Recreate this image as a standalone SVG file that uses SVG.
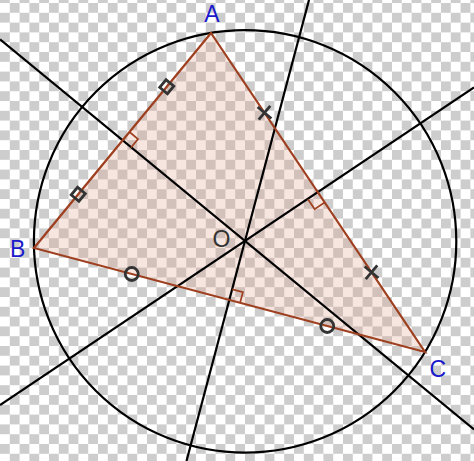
<svg xmlns="http://www.w3.org/2000/svg" width="474" height="461" viewBox="0 0 474 461">
<defs>
<pattern id="chk" x="0" y="3" width="19.6" height="19.6" patternUnits="userSpaceOnUse">
<rect width="19.6" height="19.6" fill="#ffffff"/>
<rect x="9.8" y="0" width="9.8" height="9.8" fill="#cdcdcd"/>
<rect x="0" y="9.8" width="9.8" height="9.8" fill="#cdcdcd"/>
</pattern>
</defs>
<style>
.line{stroke:#000;stroke-width:2.2;fill:none}
.side{stroke:#9e4020;stroke-width:2.2;fill:none;stroke-linejoin:miter}
.ra{stroke:#9e4020;stroke-width:1.7;fill:none}
.tick{stroke:#333;stroke-width:2.8;fill:none}
.lbl{font-family:"Liberation Sans",Arial,sans-serif;font-size:23px;fill:#1a1acc}
.olbl{font-family:"Liberation Sans",Arial,sans-serif;font-size:23px;fill:#333}
</style>
<rect width="474" height="461" fill="url(#chk)"/>
<g id="triangle-fill">
<polygon points="211,33 34,248 425,352" fill="#e0a088" fill-opacity="0.26"/>
</g>
<g id="circumcircle">
<circle cx="245.1" cy="241.4" r="211.2" class="line"/>
</g>
<g id="connectors">
<line class="line" x1="0" y1="39.3" x2="474" y2="429.5"/>
<line class="line" x1="474" y1="87.4" x2="0" y2="405"/>
<line class="line" x1="309" y1="0" x2="186.5" y2="461"/>
</g>
<g id="triangle">
<polygon class="side" points="211,33 34,248 425,352"/>
</g>
<g id="right-angles">
<path class="ra" d="M129.5,132 L138,139 L131,147.5"/>
<path class="ra" d="M324.6,202.5 L314.6,209.1 L307.9,199.2"/>
<path class="ra" d="M240.1,302.8 L242.9,292.2 L232.3,289.4"/>
</g>
<g id="ticks">
<rect class="tick" x="-5" y="-5" width="10" height="10" transform="translate(166.75,86.75) rotate(39.5)"/>
<rect class="tick" x="-5" y="-5" width="10" height="10" transform="translate(78.25,194.25) rotate(39.5)"/>
<path class="tick" d="M-9,0H9M0,-9V9" transform="translate(264.5,112.75) rotate(40)"/>
<path class="tick" d="M-9,0H9M0,-9V9" transform="translate(371.5,272.25) rotate(40)"/>
<circle class="tick" cx="131.75" cy="274" r="6.5"/>
<circle class="tick" cx="327.25" cy="326" r="6.5"/>
</g>
<g id="label-A"><text class="lbl" x="212" y="22" text-anchor="middle">A</text></g>
<g id="label-B"><text class="lbl" x="10" y="256.5">B</text></g>
<g id="label-C"><text class="lbl" x="429.5" y="377">C</text></g>
<g id="label-O"><text class="olbl" x="221.5" y="246.5" text-anchor="middle">O</text></g>
</svg>
